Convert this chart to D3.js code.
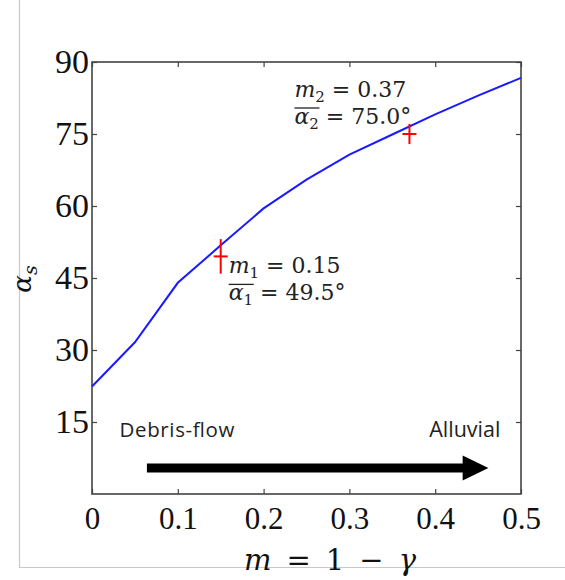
<!DOCTYPE html>
<html>
<head>
<meta charset="utf-8">
<script src="https://cdn.jsdelivr.net/npm/d3@7"></script>
<style>
  body { margin: 0; background: #fff; }
  svg { display: block; }
</style>
</head>
<body>
<svg id="chart" width="565" height="580"></svg>
<script>
// curve: slope angle vs m
const mValues = [0, 0.05, 0.1, 0.15, 0.2, 0.25, 0.3, 0.35, 0.4, 0.45, 0.5];
const alphaValues = [22.4, 31.6, 44.0, 51.8, 59.5, 65.5, 70.7, 74.9, 79.1, 83.0, 86.7];

// measured points (m, mean angle, spread)
const pointM = [0.15, 0.37];
const pointAlpha = [49.5, 75.0];
const pointSpread = [3.6, 2.1];
const pointIdx = ['1', '2'];

const xTicks = [0, 0.1, 0.2, 0.3, 0.4, 0.5];
const yTicks = [15, 30, 45, 60, 75, 90];

const svg = d3.select('#chart');
const margin = { top: 62, right: 44, bottom: 86, left: 92 };
const width = 565 - margin.left - margin.right;
const height = 580 - margin.top - margin.bottom;

// outer figure frame (light grey)
svg.append('path')
    .attr('d', 'M19.5,0V567.5H565')
    .attr('fill', 'none')
    .attr('stroke', '#c8c8c8')
    .attr('stroke-width', 1.2);

const g = svg.append('g')
    .attr('transform', `translate(${margin.left},${margin.top})`);

const x = d3.scaleLinear().domain([0, 0.5]).range([0, width]);
const y = d3.scaleLinear().domain([0, 90]).range([height, 0]);

const tickFont = '"Liberation Serif", "Times New Roman", serif';

// inward ticks on all four sides
const xAxisG = g.append('g')
    .attr('transform', `translate(0,${height})`)
    .call(d3.axisBottom(x).tickValues(xTicks).tickSize(-5).tickSizeOuter(0).tickFormat(d3.format('')));
const yAxisG = g.append('g')
    .call(d3.axisLeft(y).tickValues(yTicks).tickSize(-5).tickSizeOuter(0));
const topG = g.append('g')
    .call(d3.axisTop(x).tickValues(xTicks).tickSize(-5).tickSizeOuter(0).tickFormat(''));
const rightG = g.append('g')
    .attr('transform', `translate(${width},0)`)
    .call(d3.axisRight(y).tickValues(yTicks).tickSize(-5).tickSizeOuter(0).tickFormat(''));

[xAxisG, yAxisG, topG, rightG].forEach(ag => {
    ag.select('.domain').remove();
    ag.selectAll('.tick line').attr('stroke', '#444').attr('stroke-width', 1.2);
    ag.selectAll('.tick text').attr('font-family', tickFont).attr('fill', '#111');
});
xAxisG.selectAll('.tick text').attr('font-size', 31).attr('y', 13);
yAxisG.selectAll('.tick text').attr('font-size', 34).attr('x', -3);

// plot frame
g.append('rect')
    .attr('width', width)
    .attr('height', height)
    .attr('fill', 'none')
    .attr('stroke', '#444')
    .attr('stroke-width', 1.6);

// curve
const curve = mValues.map((m, i) => [m, alphaValues[i]]);
g.append('path')
    .datum(curve)
    .attr('fill', 'none')
    .attr('stroke', '#1a1aff')
    .attr('stroke-width', 2)
    .attr('d', d3.line().x(d => x(d[0])).y(d => y(d[1])));

// red markers with spread
pointM.forEach((m, i) => {
    const cx = x(m), cy = y(pointAlpha[i]);
    g.append('line')
        .attr('x1', cx).attr('x2', cx)
        .attr('y1', y(pointAlpha[i] + pointSpread[i]))
        .attr('y2', y(pointAlpha[i] - pointSpread[i]))
        .attr('stroke', '#ff0000').attr('stroke-width', 2);
    g.append('line')
        .attr('x1', cx - 7).attr('x2', cx + 7)
        .attr('y1', cy).attr('y2', cy)
        .attr('stroke', '#ff0000').attr('stroke-width', 2);
});

// annotations
const annoFont = '"DejaVu Serif", "Liberation Serif", serif';
const annos = [
    { dx: x(pointM[0]) + 8, dy: y(pointAlpha[0]) + 17 },
    { dx: x(pointM[1]) - 115, dy: y(pointAlpha[1]) - 37 }
];
annos.forEach((a, i) => {
    const t1 = g.append('text')
        .attr('x', a.dx).attr('y', a.dy)
        .attr('font-family', annoFont)
        .attr('font-size', 22)
        .attr('fill', '#222');
    t1.append('tspan').attr('font-style', 'italic').text('m');
    t1.append('tspan').attr('font-size', 15).attr('dy', 5).text(pointIdx[i]);
    t1.append('tspan').attr('dy', -5).text(' = ' + pointM[i].toFixed(2));

    const t2 = g.append('text')
        .attr('x', a.dx).attr('y', a.dy + 27)
        .attr('font-family', annoFont)
        .attr('font-size', 22)
        .attr('fill', '#222');
    t2.append('tspan').attr('font-style', 'italic').text('α');
    t2.append('tspan').attr('font-size', 15).attr('dy', 5).text(pointIdx[i]);
    t2.append('tspan').attr('dy', -5).text(' = ' + pointAlpha[i].toFixed(1) + '°');

    // overline above alpha_i
    g.append('line')
        .attr('x1', a.dx).attr('x2', a.dx + 25)
        .attr('y1', a.dy + 11).attr('y2', a.dy + 11)
        .attr('stroke', '#222').attr('stroke-width', 1.3);
});

// regime labels
const sansFont = '"Open Sans", "Noto Sans", sans-serif';
g.append('text')
    .attr('x', x(0.032)).attr('y', y(11.8))
    .attr('font-family', sansFont).attr('font-size', 20.5).attr('fill', '#222')
    .attr('textLength', 115)
    .text('Debris-flow');
g.append('text')
    .attr('x', x(0.476)).attr('y', y(11.8))
    .attr('font-family', sansFont).attr('font-size', 21.5).attr('fill', '#222')
    .attr('text-anchor', 'end')
    .text('Alluvial');

// arrow
const ax0 = x(0.064), ax1 = x(0.462), ah = x(0.432), ay = y(5.4);
g.append('path')
    .attr('d', `M${ax0},${ay - 4.5}H${ah}V${ay - 12.5}L${ax1},${ay}L${ah},${ay + 12.5}V${ay + 4.5}H${ax0}Z`)
    .attr('fill', '#000');

// axis titles
const yl = svg.append('text')
    .attr('transform', 'translate(31,279) rotate(-90)')
    .attr('text-anchor', 'middle')
    .attr('font-family', annoFont)
    .attr('font-size', 26)
    .attr('fill', '#111');
yl.append('tspan').attr('font-style', 'italic').text('α');
yl.append('tspan').attr('font-style', 'italic').attr('font-size', 19).attr('dy', 6).text('s');

const xl = svg.append('text')
    .attr('x', 330).attr('y', 570)
    .attr('text-anchor', 'middle')
    .attr('font-family', annoFont)
    .attr('font-size', 29)
    .attr('textLength', 172)
    .attr('lengthAdjust', 'spacing')
    .attr('fill', '#111');
xl.append('tspan').attr('font-style', 'italic').text('m');
xl.append('tspan').text(' = 1 − ');
xl.append('tspan').attr('font-style', 'italic').text('γ');
</script>
</body>
</html>
